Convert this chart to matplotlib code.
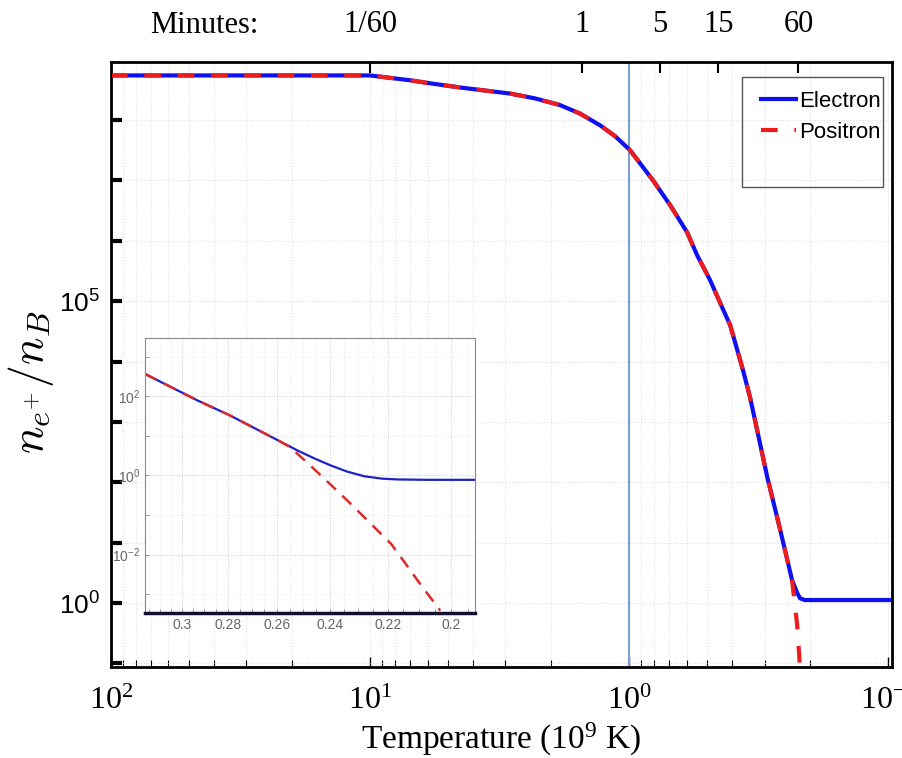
import numpy as np
import matplotlib
matplotlib.use('Agg')
import matplotlib.pyplot as plt
from matplotlib.patches import Rectangle
from matplotlib.ticker import NullFormatter, FixedLocator

plt.rcParams['mathtext.fontset'] = 'cm'

# main panel (temperature in 1e9 K, log10 of n/nB)
temp_main = [100, 10, 7.01, 5.87, 4.49, 3.6, 2.88, 2.31, 1.85, 1.55, 1.29, 1.13,
             0.991, 0.808, 0.694, 0.597, 0.546, 0.487, 0.445, 0.407, 0.363, 0.341,
             0.293, 0.261, 0.235, 0.2246, 0.219, 0.21, 0.15, 0.096]
log_electron = [8.74, 8.74, 8.66, 8.61, 8.54, 8.49, 8.44, 8.36, 8.25, 8.11, 7.91, 7.73,
                7.50, 7.00, 6.59, 6.14, 5.76, 5.35, 4.97, 4.60, 3.85, 3.40,
                2.09, 1.21, 0.38, 0.17, 0.08, 0.05, 0.05, 0.05]
temp_pos = [100, 10, 7.01, 5.87, 4.49, 3.6, 2.88, 2.31, 1.85, 1.55, 1.29, 1.13,
            0.991, 0.808, 0.694, 0.597, 0.546, 0.487, 0.445, 0.407, 0.363, 0.341,
            0.293, 0.261, 0.235, 0.2246, 0.219, 0.214]
log_positron = [8.74, 8.74, 8.66, 8.61, 8.54, 8.49, 8.44, 8.36, 8.25, 8.11, 7.91, 7.73,
                7.50, 7.00, 6.59, 6.14, 5.76, 5.35, 4.97, 4.60, 3.85, 3.40,
                2.09, 1.21, 0.38, -0.36, -1.06, -1.8]

# inset (zoom on the freeze-out)
temp_in_e = [0.317, 0.293, 0.279, 0.265, 0.259, 0.252, 0.246, 0.240, 0.234,
             0.228, 0.222, 0.217, 0.207, 0.193]
log_in_e = [2.57, 1.90, 1.52, 1.07, 0.87, 0.63, 0.44, 0.26, 0.10,
            -0.02, -0.08, -0.10, -0.11, -0.11]
temp_in_p = [0.317, 0.293, 0.279, 0.265, 0.259, 0.255, 0.248, 0.240, 0.2328,
             0.219, 0.2142, 0.2096, 0.2034]
log_in_p = [2.57, 1.90, 1.52, 1.07, 0.87, 0.72, 0.30, -0.22, -0.71,
            -1.73, -2.24, -2.75, -3.42]

# top axis: time in minutes at these temperatures
minute_temps = [10, 1.52, 0.759, 0.453, 0.222]
minute_labels = ['1/60', '1', '5', '15', '60']

inset_xticks = [0.3, 0.28, 0.26, 0.24, 0.22, 0.2]

fig = plt.figure(figsize=(9.02, 7.58), dpi=100)
ax = fig.add_axes([0.123, 0.120, 0.866, 0.798])

ax.plot(temp_main, 10 ** np.array(log_electron), color='#1010ee', lw=3.0,
        label='Electron', zorder=3)
ax.plot(temp_pos, 10 ** np.array(log_positron), color='#ee1c1c', lw=3.0,
        dashes=[4, 4], label='Positron', zorder=4)
ax.axvline(1.0, color='#7f9fcf', lw=1.5, zorder=2)

ax.set_xscale('log')
ax.set_yscale('log')
ax.set_xlim(100, 0.0966)
ax.set_ylim(10 ** -1.06, 10 ** 8.96)

ax.set_xticks([100, 10, 1, 0.1])
ax.set_xticklabels([r'$\mathregular{10^{2}}$', r'$\mathregular{10^{1}}$',
                    r'$\mathregular{10^{0}}$', r'$\mathregular{10^{-1}}$'],
                   fontfamily='Liberation Serif', fontsize=23)
ax.yaxis.set_major_locator(FixedLocator([10.0 ** k for k in range(-1, 10)]))
ax.set_yticklabels(['' if k not in (0, 5) else r'$\mathregular{10^{%d}}$' % k
                    for k in range(-1, 10)],
                   fontfamily='Liberation Sans', fontsize=19)
ax.yaxis.set_minor_formatter(NullFormatter())
ax.yaxis.set_minor_locator(FixedLocator([]))
ax.tick_params(axis='y', which='major', direction='in', length=8, width=3,
               right=False, pad=8)
ax.tick_params(axis='x', which='both', direction='in', top=False, pad=14)
ax.tick_params(axis='x', which='major', length=7, width=1)
ax.tick_params(axis='x', which='minor', length=5, width=0.8)

ax.grid(True, which='major', axis='y', color='#dddddd', ls=':', lw=0.8)
ax.grid(True, which='both', axis='x', color='#dddddd', ls=':', lw=0.8)
for s in ax.spines.values():
    s.set_linewidth(2.0)

ax.set_xlabel(r'Temperature ($\mathregular{10^9}$ K)', fontfamily='Liberation Serif',
              fontsize=24, labelpad=4)
ax.set_ylabel(r'$n_{e^{+}}/n_B$', fontsize=33)
ax.yaxis.set_label_coords(-0.07, 0.47)

leg = ax.legend(loc='upper left', bbox_to_anchor=(0.806, 0.985), frameon=False,
                prop={'family': 'Liberation Sans', 'size': 16},
                handlelength=1.6, handletextpad=0.15, labelspacing=0.45)
ax.add_patch(Rectangle((0.808, 0.793), 0.180, 0.182, transform=ax.transAxes,
                       fill=False, ec='#555555', lw=1.0, zorder=5))

# minutes along the top
top = ax.twiny()
top.set_xscale('log')
top.set_xlim(ax.get_xlim())
top.xaxis.set_minor_locator(FixedLocator([]))
top.set_xticks(minute_temps)
top.set_xticklabels(minute_labels, fontfamily='Liberation Serif', fontsize=22)
top.tick_params(axis='x', direction='in', length=8, width=1.5, pad=17)
fig.text(0.227, 0.967, 'Minutes:', fontfamily='Liberation Serif', fontsize=22,
         ha='center', va='center')

# inset
ins = fig.add_axes([0.1608, 0.1913, 0.366, 0.3628])
ins.plot(temp_in_e, 10 ** np.array(log_in_e), color='#2020c8', lw=1.6)
ins.plot(temp_in_p, 10 ** np.array(log_in_p), color='#dd2a2a', lw=1.8, dashes=[5, 3.5])
ins.set_xscale('log')
ins.set_yscale('log')
ins.set_xlim(0.317, 0.193)
ins.set_ylim(10 ** -3.48, 10 ** 3.48)
ins.xaxis.set_major_locator(FixedLocator(inset_xticks))
ins.set_xticklabels([str(v) for v in inset_xticks])
ins.xaxis.set_minor_locator(FixedLocator(np.arange(0.195, 0.32, 0.005)))
ins.xaxis.set_minor_formatter(NullFormatter())
ins.yaxis.set_major_locator(FixedLocator([1e-2, 1, 1e2]))
ins.set_yticklabels([r'$\mathregular{10^{-2}}$', r'$\mathregular{10^{0}}$',
                     r'$\mathregular{10^{2}}$'])
ins.yaxis.set_minor_locator(FixedLocator([10.0 ** k for k in range(-3, 4)]))
ins.yaxis.set_minor_formatter(NullFormatter())
ins.tick_params(which='both', direction='in', labelsize=10, labelcolor='#666666',
                color='#888888', length=3, width=0.6)
for lab in ins.get_xticklabels() + ins.get_yticklabels():
    lab.set_fontfamily('Liberation Sans')
ins.grid(True, which='major', color='#cccccc', ls=':', lw=0.7)
ins.grid(True, which='minor', color='#e4e4e4', ls=':', lw=0.6)
for name, s in ins.spines.items():
    s.set_color('#888888')
    s.set_linewidth(0.8)
ins.spines['bottom'].set_color('#101030')
ins.spines['bottom'].set_linewidth(2.5)

fig.savefig('out.png', dpi=100)
